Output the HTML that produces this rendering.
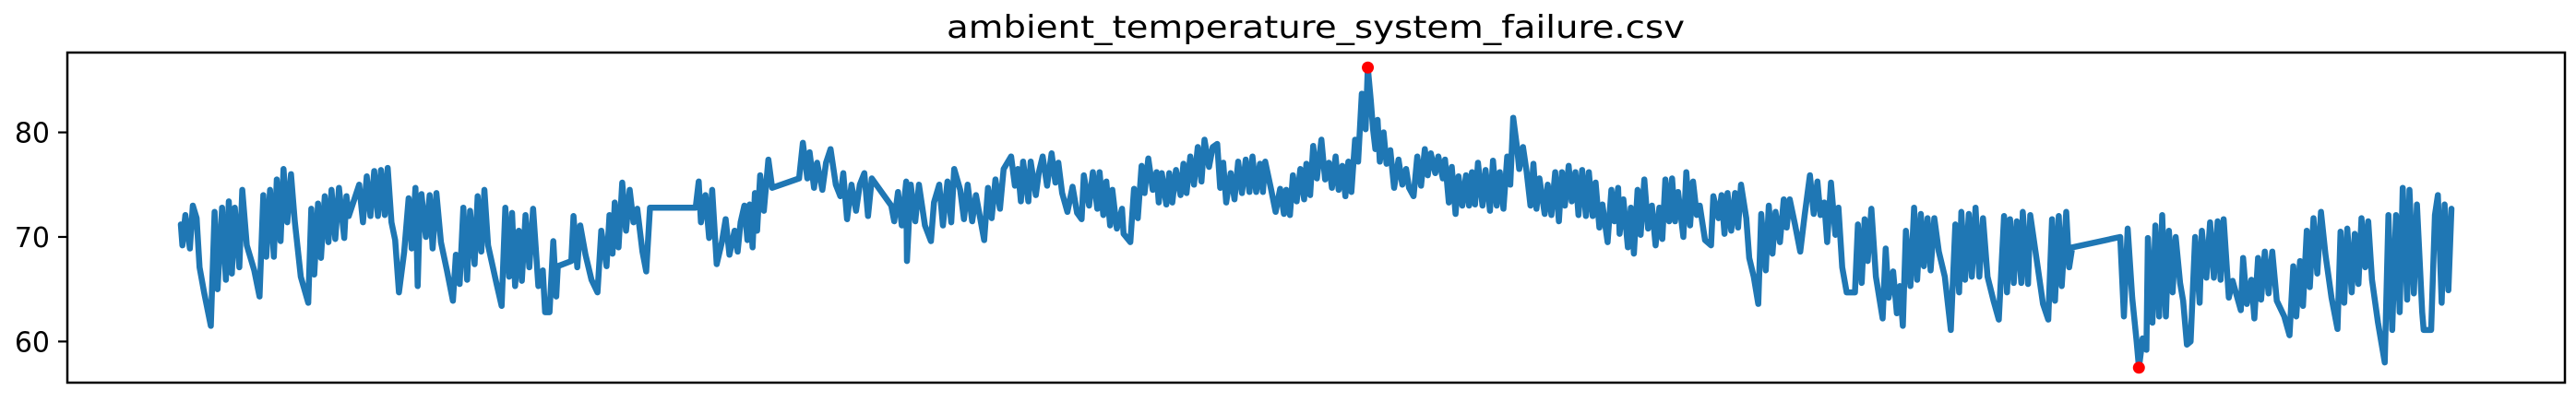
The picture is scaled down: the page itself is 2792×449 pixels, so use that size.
<!DOCTYPE html>
<html><head><meta charset="utf-8"><title>ambient_temperature_system_failure.csv</title>
<style>
html,body{margin:0;padding:0;background:#fff;}
svg{display:block;}
text{font-family:"DejaVu Sans","Liberation Sans",sans-serif;fill:#000;}
</style></head>
<body>
<svg id="chart" width="2792" height="449" viewBox="0 0 2792 449" xmlns="http://www.w3.org/2000/svg">
<rect x="0" y="0" width="2792" height="449" fill="#fff"/>
<text x="1426" y="41" font-size="34" text-anchor="middle" textLength="800" lengthAdjust="spacingAndGlyphs">ambient_temperature_system_failure.csv</text>
<g id="yaxis"></g>
<g id="series"></g>
<rect x="73" y="57" width="2707" height="358" fill="none" stroke="#000" stroke-width="2.5"/>
</svg>
<script>
const days = [0.0,0.2,0.6,1.2,1.6,2.1,2.5,3.1,4.0,4.5,4.9,5.5,6.0,6.4,6.8,7.2,7.8,8.2,8.8,9.8,10.5,11.0,11.4,11.9,12.4,12.8,13.3,13.7,14.2,14.7,15.2,16.0,17.0,17.4,17.8,18.3,18.7,19.2,19.7,20.1,20.6,21.1,21.8,22.1,22.4,23.8,24.3,24.8,25.3,25.8,26.3,26.7,27.2,27.6,28.1,28.6,29.1,29.8,30.4,30.8,31.3,31.6,31.8,32.1,32.7,33.2,33.6,34.1,34.7,35.5,36.3,36.7,37.2,37.7,38.2,
38.6,39.2,39.6,40.1,40.5,41.0,42.1,42.8,43.3,43.8,44.2,44.6,45.1,45.5,46.0,46.5,47.0,47.7,48.3,48.6,49.2,49.7,50.1,50.3,52.1,52.4,52.9,53.3,54.0,54.8,55.6,56.1,56.8,57.2,57.6,57.9,58.4,58.9,59.4,59.9,60.4,60.9,61.6,62.1,62.6,68.7,69.1,69.4,70.0,70.5,70.9,71.5,72.2,72.7,73.2,73.9,74.3,74.7,75.2,75.6,75.9,76.3,76.6,
76.9,77.3,77.8,78.4,78.9,82.5,83.0,83.6,83.9,84.5,84.9,85.6,86.1,86.7,87.4,88.0,88.4,88.9,89.5,90.1,90.6,91.2,91.7,92.2,94.8,95.2,95.7,96.2,96.8,96.9,97.4,98.0,98.5,99.3,100.1,100.5,101.2,101.7,102.3,102.8,103.2,104.0,104.5,105.0,105.6,106.1,107.2,107.7,108.2,108.7,109.3,109.8,110.8,111.3,111.7,112.1,112.4,113.1,113.4,114.1,114.5,115.0,
115.6,116.2,116.7,117.1,117.6,118.3,119.0,119.6,120.2,120.5,121.2,121.7,122.3,122.6,123.1,123.5,124.0,124.3,124.9,125.6,125.8,126.7,127.2,127.7,128.2,128.6,129.1,129.7,130.2,130.5,130.9,131.5,131.9,132.3,132.8,133.4,133.8,134.2,134.7,135.2,135.7,136.2,136.6,137.2,137.7,138.3,138.7,139.1,139.5,140.1,140.6,141.1,141.6,142.1,142.6,143.0,143.5,144.0,144.4,144.7,145.5,146.1,146.7,147.2,147.5,148.0,148.4,148.9,149.4,149.9,150.2,150.7,151.1,151.6,152.2,152.7,153.2,
153.6,154.1,154.5,155.0,155.4,155.8,156.2,156.7,157.1,157.6,158.1,158.4,158.8,159.1,159.4,159.7,160.0,160.5,160.9,161.4,161.9,162.5,163.0,163.5,163.9,164.5,165.0,165.5,166.0,166.4,166.8,167.4,167.8,168.4,168.7,169.2,169.6,170.1,170.5,171.0,171.5,171.9,172.3,172.7,173.1,173.7,174.1,174.7,175.1,175.6,176.0,176.5,177.0,177.4,177.8,178.3,178.6,179.1,179.6,180.1,180.5,180.9,181.3,182.0,182.4,182.9,183.4,183.9,184.3,184.7,185.2,185.6,186.1,186.5,187.0,187.5,187.9,188.4,188.8,189.3,189.7,190.4,190.9,191.3,
191.8,192.0,192.5,193.1,193.5,193.9,194.4,194.8,195.3,195.8,196.3,196.8,197.3,197.7,198.1,198.6,199.0,199.4,199.8,200.5,200.9,201.4,201.8,202.3,202.7,203.4,204.2,204.5,205.2,205.6,206.0,206.4,206.9,207.4,207.8,208.2,208.9,209.3,209.9,210.5,210.9,211.5,211.9,212.4,212.8,213.4,213.9,214.3,214.7,215.4,216.1,216.7,217.4,217.9,218.4,218.8,219.3,219.7,220.2,220.8,221.2,221.7,222.3,223.4,223.8,224.3,224.7,225.1,225.6,226.2,227.1,227.5,227.9,228.5,229.0,229.4,
229.8,230.2,230.8,231.3,231.7,232.2,232.6,233.1,233.5,234.0,234.6,235.4,236.2,236.8,237.3,237.6,238.1,238.6,239.0,239.5,240.0,240.5,241.1,241.9,242.6,243.3,243.7,244.1,244.6,245.0,245.6,245.8,246.5,246.8,247.5,248.5,249.2,249.7,250.1,250.6,251.0,251.6,252.0,252.4,258.8,259.3,259.8,260.4,261.0,261.3,261.8,262.3,262.5,263.1,263.5,264.0,264.4,264.9,265.3,265.8,266.2,266.8,267.2,267.7,
268.2,268.8,269.4,269.7,270.3,270.8,271.3,271.8,272.2,272.6,273.3,273.8,274.9,275.2,275.7,276.3,276.7,277.2,277.6,278.1,278.6,279.1,279.7,280.7,281.4,281.9,282.3,282.8,283.2,283.7,284.1,284.6,285.1,285.6,286.2,287.0,287.8,288.2,288.7,289.1,289.7,290.1,290.6,291.0,291.5,291.9,292.4,293.2,294.1,294.6,295.1,295.6,296.1,296.5,297.1,297.4,298.0,298.4,299.1,299.3,300.3,300.8,301.2,301.7,302.1,302.6,303.0];
const temps = [71.2,69.2,72.1,68.9,73.0,71.8,67.1,64.7,61.5,72.4,65.0,72.8,65.9,73.4,66.5,72.8,67.1,74.5,69.2,66.8,64.3,74.0,68.1,74.5,68.1,75.5,69.6,76.5,71.4,76.0,71.5,66.2,63.7,72.7,66.4,73.2,68.0,73.9,69.5,74.5,69.8,74.7,69.9,73.9,72.0,75.0,71.4,75.8,72.0,76.3,72.0,76.4,72.1,76.6,71.4,69.7,64.7,68.6,73.7,68.9,74.7,65.3,70.3,74.1,70.0,74.0,68.9,74.2,69.5,66.8,63.9,68.3,65.5,72.8,65.9,
72.5,67.4,73.9,68.6,74.5,69.2,65.6,63.4,72.8,66.2,72.3,65.3,70.6,65.8,72.1,67.1,72.7,65.3,66.8,62.8,62.8,69.6,64.3,67.2,67.7,72.0,67.1,71.1,68.3,65.9,64.7,70.6,67.2,72.1,68.4,73.3,69.0,75.2,70.6,74.5,71.4,72.7,68.6,66.7,72.8,72.8,75.3,71.4,74.0,69.9,74.5,67.4,69.5,71.7,68.3,70.6,68.6,71.4,73.0,69.7,73.1,69.0,74.2,
70.6,75.9,72.5,77.4,74.7,75.6,79.0,75.6,78.1,74.7,77.1,74.5,77.1,78.4,75.0,73.9,76.1,71.7,75.0,72.5,75.0,76.1,72.0,75.6,73.0,71.5,74.3,71.1,75.3,67.7,75.0,71.5,75.0,71.1,69.6,73.3,75.0,71.1,75.3,71.4,76.5,74.5,71.7,75.0,71.5,74.0,69.7,74.7,71.8,75.5,72.7,76.5,77.7,74.9,76.5,73.4,77.2,73.4,77.2,74.0,76.2,77.7,
74.9,78.0,75.2,77.1,74.2,72.4,74.8,72.3,71.7,75.9,73.0,76.2,72.7,76.2,72.1,75.3,71.1,74.5,70.8,72.7,70.3,69.5,74.6,71.8,76.8,74.2,77.5,74.5,76.2,73.3,76.1,73.1,76.1,73.3,76.4,74.0,77.0,74.2,77.7,75.0,78.6,75.3,79.3,76.7,78.6,78.9,74.7,77.1,73.3,76.1,73.6,77.2,74.2,77.4,74.3,77.7,74.3,77.0,74.3,77.2,74.5,72.4,74.6,72.2,74.5,72.1,75.9,73.4,76.5,73.6,77.0,74.0,78.7,75.6,79.3,75.5,77.1,
74.7,77.7,74.5,76.8,73.9,77.2,74.3,79.3,77.2,83.7,80.3,86.2,83.0,80.3,78.4,81.2,77.2,80.0,77.0,78.3,74.7,77.4,75.0,76.5,74.7,73.9,77.7,74.9,78.4,75.9,78.0,76.1,77.7,75.6,77.4,73.3,76.7,72.2,75.8,73.0,75.9,73.0,76.2,73.1,77.1,73.0,76.4,72.5,77.3,73.0,76.2,72.7,77.7,75.0,81.4,78.6,76.5,78.6,76.2,73.0,77.0,72.7,75.6,72.2,75.0,72.1,76.2,71.5,76.2,73.0,76.8,73.4,76.2,72.1,76.4,72.0,76.2,72.0,75.2,70.9,73.1,69.5,74.5,71.5,
74.7,70.3,73.6,69.0,72.8,68.4,74.5,70.2,75.5,70.8,73.0,69.2,72.8,69.8,75.5,71.5,75.6,71.5,74.3,70.0,76.2,71.1,75.3,72.1,73.0,69.7,69.2,73.9,71.8,74.0,70.3,74.2,70.6,74.2,70.9,75.0,71.8,68.0,66.2,63.6,72.2,66.8,73.0,68.4,72.4,69.5,73.6,70.9,73.6,71.2,68.6,72.1,75.9,72.2,75.3,72.1,73.3,69.5,75.2,70.2,72.8,67.1,64.7,64.7,71.2,65.6,71.7,67.7,72.7,66.2,62.2,68.9,64.2,66.7,62.7,65.3,
61.5,70.6,65.3,72.8,65.9,72.2,67.2,71.8,66.8,71.8,68.6,66.2,61.1,71.2,64.7,72.4,65.9,72.2,66.2,72.8,66.2,71.8,66.2,63.9,62.1,72.0,64.7,71.7,65.6,71.5,65.6,72.4,65.5,72.1,68.6,63.6,62.1,71.7,63.9,72.0,65.3,72.4,67.1,69.0,70.0,62.4,70.8,64.2,60.0,57.5,60.3,59.2,69.9,61.8,71.1,62.4,72.1,62.4,70.6,64.7,70.0,65.6,63.9,59.7,
60.0,70.0,63.7,70.6,66.1,71.4,66.1,71.5,65.9,71.7,64.2,65.8,63.0,68.0,63.6,65.9,62.2,68.0,64.0,68.6,64.6,68.6,63.9,62.4,60.6,67.2,62.4,67.7,63.4,70.6,65.2,71.8,66.5,72.4,68.3,64.2,61.2,70.5,63.7,70.8,64.7,70.3,65.5,71.8,67.1,71.5,65.9,61.8,58.0,72.1,61.1,72.1,62.8,74.7,64.0,74.5,64.6,73.1,62.8,61.1,61.1,72.1,74.0,63.7,73.1,64.9,72.7];
const yTicks = [60, 70, 80];
const yTickLabels = ["60", "70", "80"];

const NS = "http://www.w3.org/2000/svg";
const dMin = Math.min(...days), dMax = Math.max(...days);
const tMin = Math.min(...temps), tMax = Math.max(...temps);
const plotL = 73, plotR = 2780, plotT = 57, plotB = 415;
const xPad = (dMax - dMin) * 0.05, yPad = (tMax - tMin) * 0.05;
function xScale(d){ return plotL + (d - (dMin - xPad)) / ((dMax - dMin) + 2*xPad) * (plotR - plotL); }
function yScale(v){ return plotB - (v - (tMin - yPad)) / ((tMax - tMin) + 2*yPad) * (plotB - plotT); }

const yaxis = document.getElementById('yaxis');
yTicks.forEach((t, i) => {
  const y = yScale(t);
  const tick = document.createElementNS(NS, 'line');
  tick.setAttribute('x1', plotL - 10); tick.setAttribute('x2', plotL);
  tick.setAttribute('y1', y); tick.setAttribute('y2', y);
  tick.setAttribute('stroke', '#000'); tick.setAttribute('stroke-width', '2.2');
  
  
  yaxis.appendChild(tick);
  const lab = document.createElementNS(NS, 'text');
  lab.setAttribute('x', plotL - 19); lab.setAttribute('y', y + 11);
  lab.setAttribute('font-size', '30'); lab.setAttribute('text-anchor', 'end');
  lab.textContent = yTickLabels[i];
  
  
  yaxis.appendChild(lab);
});

const series = document.getElementById('series');
let dstr = '';
days.forEach((d, i) => { dstr += (i ? 'L' : 'M') + xScale(d).toFixed(1) + ',' + yScale(temps[i]).toFixed(1); });
const path = document.createElementNS(NS, 'path');
path.setAttribute('d', dstr);
path.setAttribute('fill', 'none'); path.setAttribute('stroke', '#1f77b4');
path.setAttribute('stroke-width', '6.5'); path.setAttribute('stroke-linejoin', 'round'); path.setAttribute('stroke-linecap', 'round');


series.appendChild(path);

const iMax = temps.indexOf(tMax), iMin = temps.indexOf(tMin);
[iMax, iMin].forEach((idx, k) => {
  const c = document.createElementNS(NS, 'circle');
  c.setAttribute('cx', xScale(days[idx])); c.setAttribute('cy', yScale(temps[idx]));
  c.setAttribute('r', '6.5'); c.setAttribute('fill', '#ff0000');
  
  
  series.appendChild(c);
});
</script>
</body></html>
